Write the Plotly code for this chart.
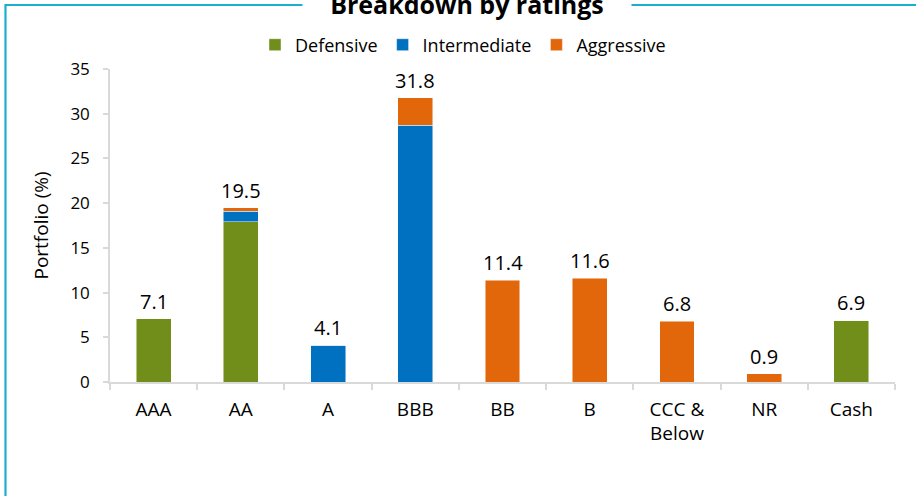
import plotly.graph_objects as go

# Rating buckets and portfolio weights (%) by risk profile
categories = ["AAA", "AA", "A", "BBB", "BB", "B", "CCC &<br>Below", "NR", "Cash"]
defensive = [7.1, 17.9, 0, 0, 0, 0, 0, 0, 6.9]
intermediate = [0, 1.2, 4.1, 28.7, 0, 0, 0, 0, 0]
aggressive = [0, 0.4, 0, 3.1, 11.4, 11.6, 6.8, 0.9, 0]
totals = [7.1, 19.5, 4.1, 31.8, 11.4, 11.6, 6.8, 0.9, 6.9]

series = [
    ("Defensive", defensive, "#718E1A"),
    ("Intermediate", intermediate, "#0070C0"),
    ("Aggressive", aggressive, "#E2660A"),
]

FONT = "Open Sans"
W, H = 916, 496
L, R, T, B = 110, 21, 69, 114
pw, ph = W - L - R, H - T - B


def px_x(x):
    return (x - L) / pw


def px_y(y):
    return (H - B - y) / ph


fig = go.Figure()
for name, vals, color in series:
    fig.add_trace(go.Bar(
        x=categories, y=vals, name=name,
        marker=dict(color=color, line=dict(color="rgba(255,255,255,0.6)", width=0.8)),
        hoverinfo="x+y+name",
    ))

# Total labels above each stacked bar
for cat, tot in zip(categories, totals):
    fig.add_annotation(
        x=cat, y=tot, text=f"{tot:.1f}", showarrow=False,
        yanchor="bottom", yshift=2,
        font=dict(family=FONT, size=20, color="#000000"),
    )

# Framing box around the chart
fig.add_shape(
    type="rect", xref="paper", yref="paper",
    x0=px_x(5.5), x1=px_x(930), y0=px_y(510), y1=px_y(5),
    line=dict(color="#1AAFCB", width=2.2), fillcolor="rgba(0,0,0,0)",
    layer="below",
)

# Title sitting on the top edge of the frame
fig.add_annotation(
    xref="paper", yref="paper", x=px_x(466.5), y=px_y(4),
    text="<b>Breakdown by ratings</b>", showarrow=False,
    xanchor="center", yanchor="middle",
    width=326, bgcolor="#FFFFFF",
    font=dict(family=FONT, size=25, color="#000000"),
)

axis_gray = "#D9D9D9"
fig.update_layout(
    width=W, height=H,
    margin=dict(l=L, r=R, t=T, b=B, pad=0),
    barmode="stack", bargap=0.6,
    plot_bgcolor="#FFFFFF", paper_bgcolor="#FFFFFF",
    font=dict(family=FONT, size=17, color="#000000"),
    showlegend=True,
    legend=dict(
        orientation="h", x=px_x(463), xanchor="center",
        y=px_y(45), yanchor="middle",
        font=dict(family=FONT, size=18, color="#000000"),
        traceorder="normal", itemwidth=30,
        bgcolor="rgba(0,0,0,0)",
    ),
    xaxis=dict(
        type="category", showline=True, linecolor=axis_gray, linewidth=1.5,
        ticks="outside", tickson="boundaries", ticklen=6, tickcolor=axis_gray,
        tickwidth=1.5, showgrid=False, ticklabelstandoff=9,
        tickfont=dict(family=FONT, size=19, color="#000000"),
    ),
    yaxis=dict(
        range=[0, 35], dtick=5, showline=True, linecolor=axis_gray, linewidth=1.5,
        ticks="outside", ticklen=5, tickcolor=axis_gray, tickwidth=1.5,
        showgrid=False, zeroline=False, ticklabelstandoff=10,
        tickfont=dict(family=FONT, size=17, color="#000000"),
        title=dict(text="Portfolio (%)", standoff=17,
                   font=dict(family=FONT, size=19, color="#000000")),
    ),
)

fig.write_html("out.html")
